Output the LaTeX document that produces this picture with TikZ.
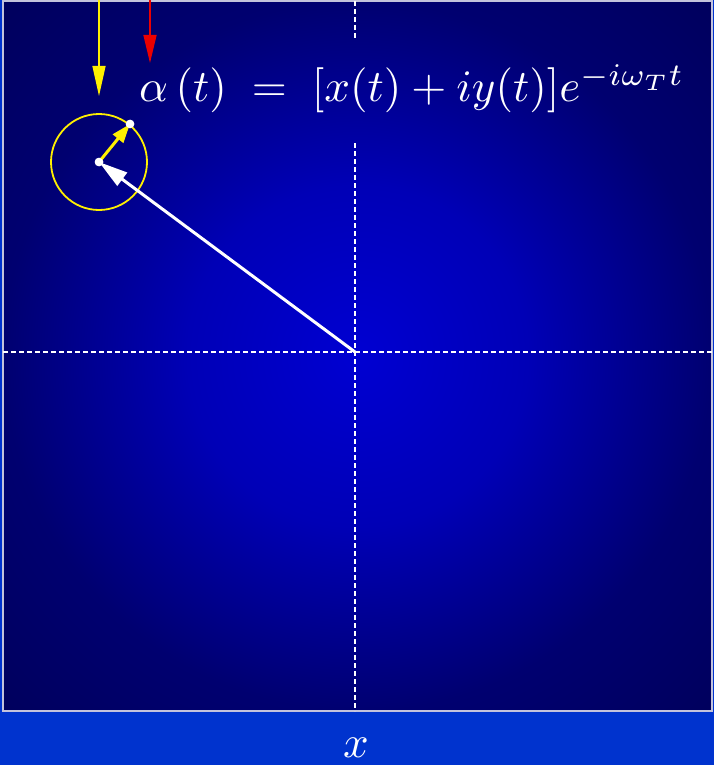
\documentclass[tikz,border=0pt]{standalone}
\usepackage{graphicx}
\usepackage{tikz}
\usetikzlibrary{arrows.meta}
\definecolor{slideblue}{RGB}{0,51,206}
\definecolor{frameline}{RGB}{195,195,220}
\definecolor{vecyellow}{RGB}{255,240,0}
\definecolor{vecred}{RGB}{235,0,0}
\pgfdeclareradialshading{phaseglow}{\pgfpoint{0bp}{0bp}}{%
  color(0bp)=(rgb,255:red,0;green,0;blue,210);
  color(12bp)=(rgb,255:red,0;green,0;blue,182);
  color(25bp)=(rgb,255:red,0;green,0;blue,112);
  color(36bp)=(rgb,255:red,0;green,0;blue,92);
  color(50bp)=(rgb,255:red,0;green,0;blue,92)}
\newcommand{\bigmath}[1]{\scalebox{4.5}{$#1$}}

\begin{document}
\begin{tikzpicture}[x=1pt,y=-1pt,
  axis/.style={white,line width=1.1pt,dash pattern=on 5pt off 3pt},
  big/.style={text=white,inner sep=0pt},
  dot/.style={circle,fill=white,inner sep=0pt,minimum size=8.5pt},
  vec/.style={line width=3pt,-{Triangle[length=29pt,width=16pt]}}]
  \useasboundingbox (0,0) rectangle (714,765);
  \fill[slideblue] (0,0) rectangle (714,765);
  \shade[shading=phaseglow] (3,1) rectangle (712,711);
  \draw[frameline,line width=1.5pt] (3,1) rectangle (712,711);
  % axes
  \coordinate (O) at (355,352);
  \coordinate (left) at (3,352);
  \coordinate (right) at (712,352);
  \coordinate (top) at (355,1);
  \coordinate (topend) at (355,40);
  \coordinate (midstart) at (355,143);
  \coordinate (bottom) at (355,711);
  \draw[axis] (left)--(right);
  \draw[axis] (top)--(topend);
  \draw[axis] (midstart)--(bottom);
  % phasor
  \node[dot] (mean) at (99,162) {};
  \node[dot] (tipp) at (130,124) {};
  \draw[vecyellow,line width=1.8pt] (mean) circle (48);
  \draw[vec,white] (O)--(mean.center);
  \draw[vec,vecyellow,-{Triangle[length=19pt,width=13pt]}] (mean.center)--(tipp.center);
  \node[dot] at (tipp) {};
  \node[dot] at (mean) {};
  % markers from above
  \coordinate (ystart) at (99,0);
  \coordinate (yend) at (99,96);
  \coordinate (rstart) at (150,0);
  \coordinate (rend) at (150,63);
  \draw[vecyellow,line width=1.3pt,-{Triangle[length=30pt,width=13pt]}] (ystart)--(yend);
  \draw[vecred,line width=1.5pt,-{Triangle[length=28pt,width=13pt]}] (rstart)--(rend);
  % labels
  \node[big,anchor=base west] (eq) at (139,102)
    {\bigmath{\alpha\,(t)\;=\;[x(t)+iy(t)]e^{-i\omega_T t}}};
  \node[big,anchor=base] (xlab) at (356,757) {\bigmath{x}};
\end{tikzpicture}
\end{document}
